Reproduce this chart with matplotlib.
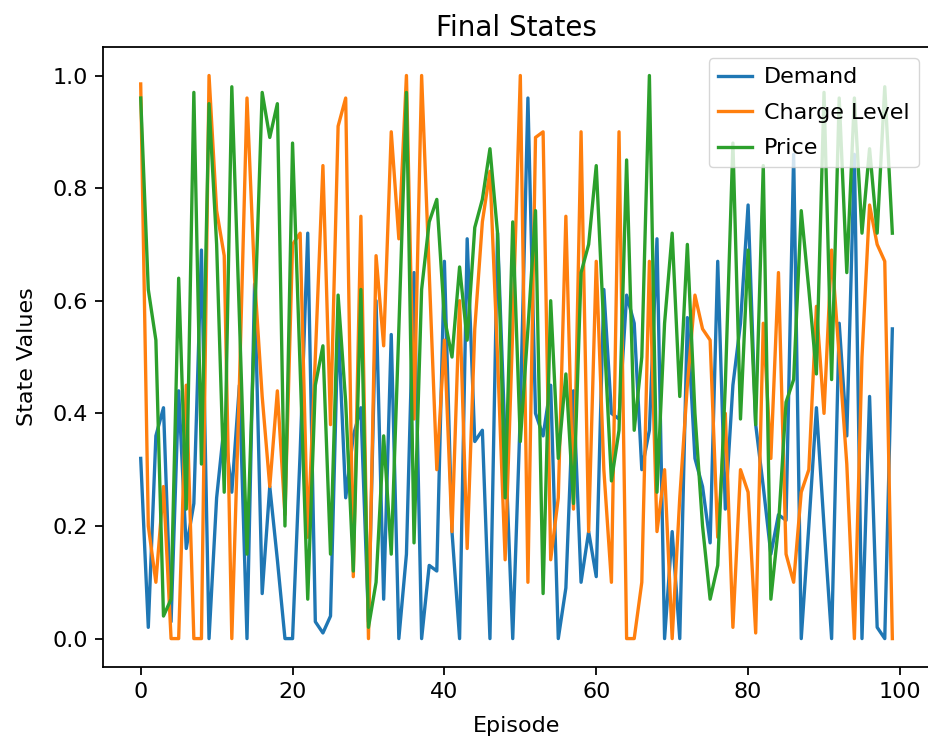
import numpy as np
import matplotlib
matplotlib.use('Agg')
import matplotlib.pyplot as plt

# values, one per episode
demand = [0.32, 0.02, 0.36, 0.41, 0.03, 0.44, 0.16, 0.24, 0.69, 0.0,
          0.25, 0.38, 0.26, 0.45, 0.0, 0.63, 0.08, 0.27, 0.14, 0.0,
          0.0, 0.33, 0.72, 0.03, 0.01, 0.04, 0.56, 0.25, 0.36, 0.41,
          0.03, 0.6, 0.07, 0.54, 0.0, 0.15, 0.65, 0.0, 0.13, 0.12,
          0.67, 0.19, 0.0, 0.71, 0.35, 0.37, 0.0, 0.72, 0.35, 0.0,
          0.4, 0.96, 0.40, 0.36, 0.45, 0.0, 0.09, 0.44, 0.10, 0.19,
          0.11, 0.62, 0.40, 0.39, 0.61, 0.56, 0.30, 0.37, 0.71, 0.0,
          0.19, 0.0, 0.57, 0.32, 0.27, 0.17, 0.67, 0.23, 0.45, 0.56,
          0.77, 0.38, 0.27, 0.15, 0.22, 0.21, 0.86, 0.0, 0.2, 0.41,
          0.2, 0.0, 0.56, 0.36, 0.86, 0.0, 0.43, 0.02, 0.0, 0.55]

charge = [0.985, 0.2, 0.10, 0.27, 0.0, 0.0, 0.45, 0.0, 0.0, 1.0,
          0.76, 0.68, 0.0, 0.45, 0.96, 0.64, 0.43, 0.27, 0.44, 0.22,
          0.70, 0.72, 0.18, 0.5, 0.84, 0.38, 0.91, 0.96, 0.11, 0.75,
          0.0, 0.68, 0.52, 0.90, 0.71, 1.0, 0.39, 1.0, 0.65, 0.30,
          0.53, 0.19, 0.60, 0.16, 0.55, 0.74, 0.83, 0.5, 0.14, 0.55,
          1.0, 0.10, 0.89, 0.90, 0.14, 0.25, 0.75, 0.23, 0.90, 0.19,
          0.67, 0.3, 0.10, 0.90, 0.0, 0.0, 0.10, 0.67, 0.19, 0.30,
          0.0, 0.25, 0.45, 0.61, 0.55, 0.53, 0.18, 0.40, 0.02, 0.30,
          0.26, 0.01, 0.56, 0.32, 0.65, 0.15, 0.10, 0.26, 0.30, 0.59,
          0.40, 0.69, 0.5, 0.31, 0.0, 0.5, 0.77, 0.70, 0.67, 0.0]

price = [0.96, 0.62, 0.53, 0.04, 0.07, 0.64, 0.23, 0.97, 0.31, 0.95,
         0.7, 0.26, 0.98, 0.57, 0.15, 0.56, 0.97, 0.89, 0.95, 0.20,
         0.88, 0.48, 0.07, 0.45, 0.52, 0.15, 0.61, 0.42, 0.12, 0.62,
         0.02, 0.10, 0.36, 0.15, 0.55, 0.97, 0.17, 0.62, 0.74, 0.78,
         0.57, 0.50, 0.66, 0.53, 0.73, 0.78, 0.87, 0.72, 0.25, 0.74,
         0.35, 0.55, 0.76, 0.08, 0.60, 0.32, 0.47, 0.24, 0.65, 0.70,
         0.84, 0.55, 0.28, 0.37, 0.85, 0.37, 0.5, 1.0, 0.26, 0.56,
         0.72, 0.43, 0.70, 0.4, 0.2, 0.07, 0.13, 0.45, 0.88, 0.39,
         0.69, 0.38, 0.84, 0.07, 0.2, 0.42, 0.46, 0.76, 0.62, 0.47,
         0.97, 0.46, 0.96, 0.65, 0.96, 0.72, 0.87, 0.72, 0.98, 0.72]

episodes = np.arange(len(demand))

s = 1.6  # reference looks like a default figure scaled up
fs = 10 * s
fig = plt.figure(figsize=(9.29, 7.40), dpi=100)
# right spine sits at the picture's right edge in the reference
ax = fig.add_axes([0.111, 0.099, 0.890, 0.837])
ax.plot(episodes, demand, color='#1f77b4', lw=1.5 * s, label='Demand')
ax.plot(episodes, charge, color='#ff7f0e', lw=1.5 * s, label='Charge Level')
ax.plot(episodes, price, color='#2ca02c', lw=1.5 * s, label='Price')

ax.set_title('Final States', fontsize=12.5 * s, pad=8)
ax.set_xlabel('Episode', fontsize=fs, labelpad=10)
ax.set_ylabel('State Values', fontsize=fs, labelpad=11)
ax.tick_params(labelsize=fs, width=0.8 * s, length=3.5 * s, pad=3.5 * s)
ax.set_xticks([0, 20, 40, 60, 80, 100])
ax.set_yticks([0.0, 0.2, 0.4, 0.6, 0.8, 1.0])
ax.set_xlim(-4.95, 103.95)
ax.set_ylim(-0.05, 1.05)
for sp in ax.spines.values():
    sp.set_linewidth(0.8 * s)
ax.legend(loc='upper right', fontsize=fs, handlelength=1.55,
          handletextpad=0.55, labelspacing=0.7)

fig.savefig('out.png', dpi=100)
